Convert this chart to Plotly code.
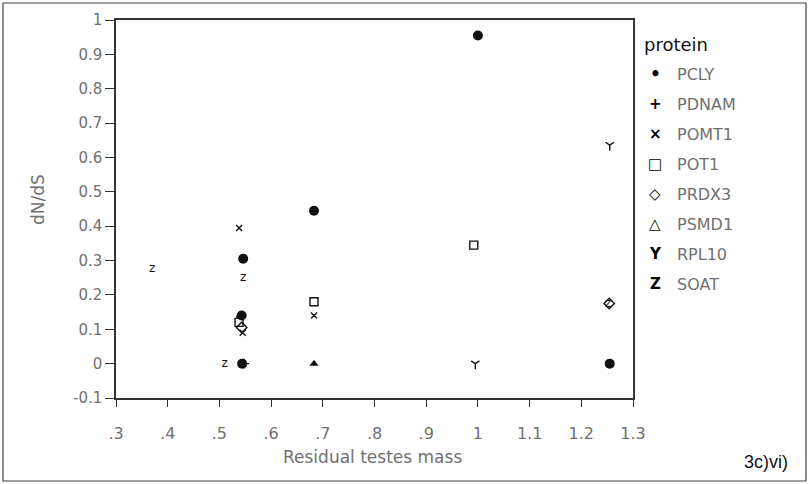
import plotly.graph_objects as go

# ---- data ----
proteins = ["PCLY", "PDNAM", "POMT1", "POT1", "PRDX3", "PSMD1", "RPL10", "SOAT"]

pcly_x = [1.0, 0.683, 0.546, 0.543, 0.544, 1.255]
pcly_y = [0.955, 0.445, 0.305, 0.14, 0.0, 0.0]
pdnam_x = [0.548]
pdnam_y = [0.0]
pomt1_x = [0.538, 0.683, 0.545]
pomt1_y = [0.395, 0.14, 0.09]
pot1_x = [0.992, 0.683, 0.538]
pot1_y = [0.345, 0.18, 0.12]
prdx3_x = [0.543, 1.254]
prdx3_y = [0.105, 0.175]
psmd1_x = [0.683, 0.54]
psmd1_y = [0.0, 0.14]
rpl10_x = [1.255, 0.995]
rpl10_y = [0.636, 0.0]
soat_x = [0.37, 0.546, 0.51, 1.252]
soat_y = [0.275, 0.25, 0.0, 0.175]

x_tickvals = [0.3, 0.4, 0.5, 0.6, 0.7, 0.8, 0.9, 1.0, 1.1, 1.2, 1.3]
x_ticktext = [".3", ".4", ".5", ".6", ".7", ".8", ".9", "1", "1.1", "1.2", "1.3"]
y_tickvals = [1.0, 0.9, 0.8, 0.7, 0.6, 0.5, 0.4, 0.3, 0.2, 0.1, 0.0, -0.1]
y_ticktext = ["1", "0.9", "0.8", "0.7", "0.6", "0.5", "0.4", "0.3", "0.2", "0.1", "0", "-0.1"]
legend_glyphs = ["\u2022", "+", "\u00d7", "\u25a1", "\u25c7", "\u25b3", "Y", "Z"]

INK = "#111111"
GREY = "#707070"
fig = go.Figure()

def add(x, y, symbol, size, filled=True):
    fig.add_trace(go.Scatter(
        x=x, y=y, mode="markers", showlegend=False, hoverinfo="skip",
        marker=dict(symbol=symbol, size=size, color=INK,
                    line=dict(color=INK, width=1.4 if not filled else 0))))

add(pcly_x, pcly_y, "circle", 10)
add(pdnam_x, pdnam_y, "cross-thin-open", 7, filled=False)
add(pomt1_x, pomt1_y, "x-thin-open", 6, filled=False)
add(pot1_x, pot1_y, "square-open", 8, filled=False)
add(prdx3_x, prdx3_y, "diamond-open", 8, filled=False)
add(psmd1_x, psmd1_y, "triangle-up", 8)
add(rpl10_x, rpl10_y, "y-down-open", 7, filled=False)
fig.add_trace(go.Scatter(
    x=soat_x, y=soat_y, mode="text", text=["z"] * len(soat_x), showlegend=False,
    hoverinfo="skip", textfont=dict(family="DejaVu Sans", size=12, color=INK)))

TICKFONT = dict(family="DejaVu Sans", size=15, color=GREY)
fig.update_xaxes(range=[0.3, 1.3], tickmode="array", tickvals=x_tickvals, ticktext=x_ticktext,
                 showgrid=False, zeroline=False, showline=True, linecolor="#333333", linewidth=1.5,
                 mirror=True, ticks="outside", ticklen=7, tickcolor="#333333", tickwidth=1.2,
                 tickfont=dict(family="DejaVu Sans", size=16, color=GREY), ticklabelstandoff=13)
fig.update_yaxes(range=[-0.1, 1.0], tickmode="array", tickvals=y_tickvals, ticktext=y_ticktext,
                 showgrid=False, zeroline=False, showline=True, linecolor="#333333", linewidth=1.5,
                 mirror=True, ticks="outside", ticklen=9, tickcolor="#333333", tickwidth=1.2,
                 tickfont=TICKFONT)

L, R, T, B = 116, 176, 20, 86
W, H = 809, 484
pw, ph = W - L - R, H - T - B

def px(xp):
    return (xp - L) / pw

def py(yp):
    return (H - B - yp) / ph

ann = []
ann.append(dict(text="dN/dS", x=px(38), y=py(200), xref="paper", yref="paper", textangle=-90,
                showarrow=False, font=dict(family="DejaVu Sans", size=17, color=GREY),
                xanchor="center", yanchor="middle"))
ann.append(dict(text="Residual testes mass", x=px(372), y=py(457), xref="paper", yref="paper",
                showarrow=False, font=dict(family="DejaVu Sans", size=17, color=GREY),
                xanchor="center", yanchor="middle"))
ann.append(dict(text="3c)vi)", x=px(790), y=py(462), xref="paper", yref="paper",
                showarrow=False, font=dict(family="Liberation Sans", size=18, color="#111111"),
                xanchor="right", yanchor="middle"))
ann.append(dict(text="protein", x=px(642), y=py(44), xref="paper", yref="paper",
                showarrow=False, font=dict(family="DejaVu Sans", size=18, color="#111111"),
                xanchor="left", yanchor="middle"))
y0, step = 74, 30
for i, (g, name) in enumerate(zip(legend_glyphs, proteins)):
    yy = y0 + i * step
    ann.append(dict(text="<b>" + g + "</b>", x=px(655), y=py(yy), xref="paper", yref="paper",
                    showarrow=False,
                    font=dict(family="DejaVu Sans", size=17 if g == "\u2022" else 15,
                              color="#000000"),
                    xanchor="center", yanchor="middle"))
    ann.append(dict(text=name, x=px(675), y=py(yy), xref="paper", yref="paper", showarrow=False,
                    font=dict(family="DejaVu Sans", size=16, color=GREY),
                    xanchor="left", yanchor="middle"))

fig.update_layout(
    width=W, height=H, margin=dict(l=L, r=R, t=T, b=B, pad=0),
    paper_bgcolor="white", plot_bgcolor="white", annotations=ann,
    shapes=[dict(type="rect", xref="paper", yref="paper", x0=px(3), x1=px(806), y0=py(3), y1=py(481),
                 line=dict(color="#444444", width=1.2), fillcolor="rgba(0,0,0,0)", layer="below")],
)

fig.write_html("out.html")
